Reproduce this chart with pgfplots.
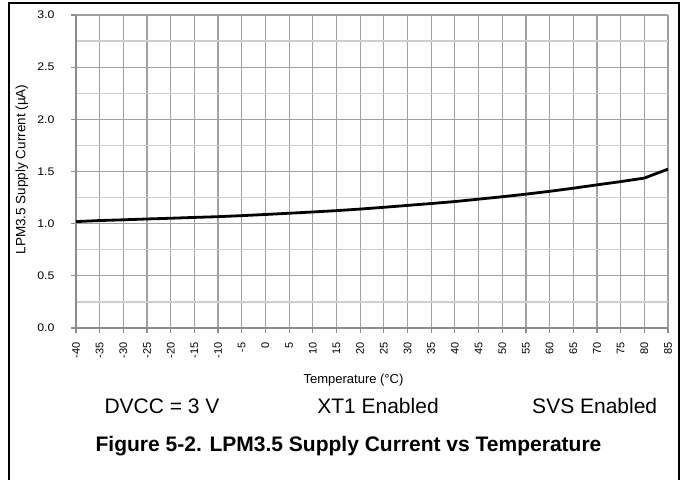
\documentclass[border=0pt]{standalone}
\usepackage{pgfplots}
\pgfplotsset{compat=1.18}
\usepackage{fontspec}
\setmainfont{Liberation Sans}
\usepackage{graphicx}
\definecolor{gridc}{HTML}{A0A0A0}
\definecolor{minorc}{HTML}{CDCDCD}
\definecolor{axc}{HTML}{8C8C8C}
\begin{document}
\begin{tikzpicture}
\useasboundingbox (0,0) rectangle (684pt,-479pt);
\draw[line width=1.5pt] (9pt,-481pt) -- (9pt,-3pt) -- (679pt,-3pt) -- (679pt,-481pt);
\begin{axis}[at={(76pt,-328pt)}, anchor=south west, scale only axis,
  width=592pt, height=313pt,
  xmin=-40, xmax=85, ymin=0, ymax=3,
  xtick={-40,-35,...,85}, ytick={0,0.5,...,3}, minor ytick={0.25,0.75,...,2.75},
  grid=both,
  major grid style={gridc, line width=1.2pt},
  minor grid style={minorc, line width=1.2pt},
  axis lines=left, axis line style={-, axc, line width=2pt},
  tick align=outside, major tick length=5pt, minor tick length=0pt,
  tick style={axc, line width=1.2pt},
  /pgf/number format/assume math mode=true,
  yticklabel={\scalebox{1.12}[1]{\fontsize{11}{13}\selectfont\pgfmathprintnumber[fixed,fixed zerofill,precision=1]{\tick}}},
  yticklabel style={xshift=-13pt},
  xticklabel={\fontsize{11}{13}\selectfont\pgfmathprintnumber[int detect]{\tick}},
  xticklabel style={yshift=-6pt, rotate=90, anchor=east},
]
\addplot[black, line width=2.8pt, line join=round] coordinates {
(-40,1.020) (-35,1.030) (-30,1.037) (-25,1.045) (-20,1.052) (-15,1.060)
(-10,1.067) (-5,1.077) (0,1.088) (5,1.100) (10,1.112) (15,1.125)
(20,1.140) (25,1.157) (30,1.175) (35,1.193) (40,1.212) (45,1.235)
(50,1.258) (55,1.283) (60,1.310) (65,1.340) (70,1.372) (75,1.403)
(80,1.437) (85,1.523)
};
\end{axis}
\node[rotate=90, font=\fontsize{13.5}{15}\selectfont] at (22pt,-169.5pt) {LPM3.5 Supply Current (µA)};
\node[font=\fontsize{13}{15}\selectfont] at (353.5pt,-380pt) {Temperature (°C)};
\node[anchor=base, font=\fontsize{21}{24}\selectfont, inner sep=0pt] at (162pt,-413pt) {DVCC = 3 V};
\node[anchor=base, font=\fontsize{21}{24}\selectfont, inner sep=0pt] at (378pt,-413pt) {XT1 Enabled};
\node[anchor=base, font=\fontsize{21}{24}\selectfont, inner sep=0pt] at (594.7pt,-413pt) {SVS Enabled};
\node[anchor=base, font=\fontsize{21}{24}\bfseries, inner sep=0pt] at (348.5pt,-451pt) {Figure 5-2. LPM3.5 Supply Current vs Temperature};
\end{tikzpicture}
\end{document}
